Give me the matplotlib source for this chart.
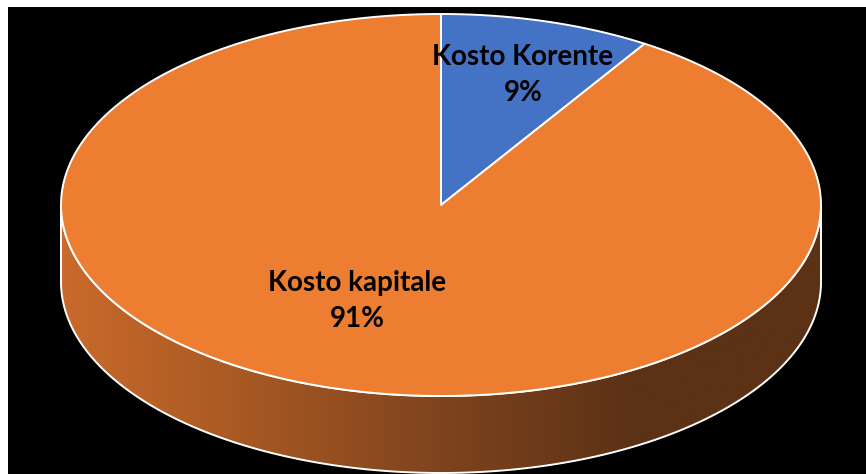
import numpy as np
import matplotlib
matplotlib.use("Agg")
import matplotlib.pyplot as plt
from matplotlib.patches import Polygon, Rectangle
from matplotlib.colors import LinearSegmentedColormap

labels = ["Kosto Korente", "Kosto kapitale"]
values = [9, 91]
colors = ["#4472C4", "#ED7D31"]
pct_labels = ["9%", "91%"]

W, H = 866, 474
cx, cy = 441, 205          # centre of the top face (pixels)
rx, ry = 380, 191          # radii of the top face
depth = 77                 # height of the pie side


def pt(t, dy=0.0):
    """point on the ellipse, t clockwise from 12 o'clock"""
    return cx + rx * np.sin(t), cy - ry * np.cos(t) + dy


fig = plt.figure(figsize=(W / 100, H / 100), dpi=100)
fig.patch.set_facecolor("white")
ax = fig.add_axes([0, 0, 1, 1])
ax.set_xlim(0, W)
ax.set_ylim(H, 0)
ax.axis("off")

ax.add_patch(Rectangle((8, 7), W - 8, H - 7, facecolor="black", edgecolor="none"))

# side of the pie (front half only) with a left-to-right gradient
tb = np.linspace(np.pi / 2, 3 * np.pi / 2, 400)
top = np.array([pt(t) for t in tb])
bot = np.array([pt(t, depth) for t in tb[::-1]])
side = Polygon(np.vstack([top, bot]), closed=True, facecolor="none",
               edgecolor="white", linewidth=1.4)
ax.add_patch(side)

side_cmap = LinearSegmentedColormap.from_list(
    "side", ["#C96A2B", "#A65823", "#7E431E", "#5C3216", "#5C3216"])
grad = np.linspace(0, 1, 512)[None, :]
img = ax.imshow(grad, cmap=side_cmap, aspect="auto",
                extent=(cx - rx, cx + rx, cy + ry + depth, cy - 10),
                interpolation="bilinear", zorder=1)
img.set_clip_path(side)
side.set_zorder(2)

# top face wedges
total = float(sum(values))
start = 0.0
for v, c in zip(values, colors):
    end = start + 2 * np.pi * v / total
    arc = np.array([pt(t) for t in np.linspace(start, end, 300)])
    poly = np.vstack([[cx, cy], arc])
    ax.add_patch(Polygon(poly, closed=True, facecolor=c, zorder=3,
                         edgecolor="white", linewidth=1.4, joinstyle="round"))
    start = end

# labels
label_pos = [(523, 75), (357, 301)]
for name, pct, (x, y) in zip(labels, pct_labels, label_pos):
    ax.text(x, y, name + "\n" + pct, ha="center", va="center", zorder=4,
            fontsize=20, fontweight="bold", family="Lato",
            color="black", linespacing=1.5)

fig.savefig("out.png", dpi=100, facecolor=fig.get_facecolor())
